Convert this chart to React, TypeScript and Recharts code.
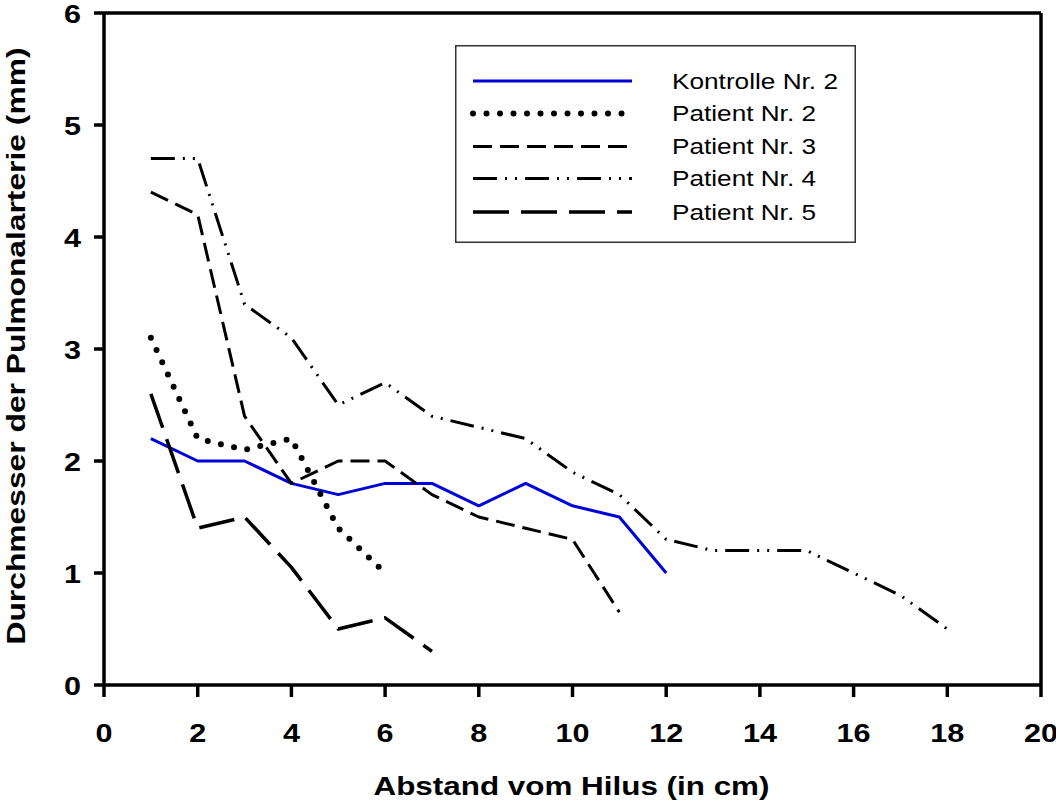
import React from 'react';
import { LineChart, Line, XAxis, YAxis, ReferenceLine, Legend } from 'recharts';

const FONT = '"Liberation Sans", Arial, Helvetica, sans-serif';

// Abstand vom Hilus (cm)
const distances = [1, 2, 3, 4, 5, 6, 7, 8, 9, 10, 11, 12, 13, 14, 15, 16, 17, 18];
// Durchmesser der Pulmonalarterie (mm)
const kontrolle2 = [2.2, 2.0, 2.0, 1.8, 1.7, 1.8, 1.8, 1.6, 1.8, 1.6, 1.5, 1.0];
const patient2 = [3.1, 2.2, 2.1, 2.2, 1.4, 1.0];
const patient3 = [4.4, 4.2, 2.4, 1.8, 2.0, 2.0, 1.7, 1.5, 1.4, 1.3, 0.65];
const patient4 = [4.7, 4.7, 3.4, 3.1, 2.5, 2.7, 2.4, 2.3, 2.2, 1.9, 1.7, 1.3, 1.2, 1.2, 1.2, 1.0, 0.8, 0.5];
const patient5 = [2.6, 1.4, 1.5, 1.05, 0.5, 0.6, 0.3];

const xTicks = [0, 2, 4, 6, 8, 10, 12, 14, 16, 18, 20];
const yTicks = [0, 1, 2, 3, 4, 5, 6];

const seriesNames = ['Kontrolle Nr. 2', 'Patient Nr. 2', 'Patient Nr. 3', 'Patient Nr. 4', 'Patient Nr. 5'];
const seriesKeys = ['k2', 'p2', 'p3', 'p4', 'p5'];
const seriesValues = [kontrolle2, patient2, patient3, patient4, patient5];

const xTitle = 'Abstand vom Hilus (in cm)';
const yTitle = 'Durchmesser der Pulmonalarterie (mm)';

const seriesStyles: Record<string, { color: string; dash?: string; width: number; cap: 'butt' | 'round' }> = {
  k2: { color: '#0000d8', dash: undefined, width: 3, cap: 'butt' },
  p2: { color: '#000000', dash: '0 13.5', width: 6, cap: 'round' },
  p3: { color: '#000000', dash: '19 8', width: 3, cap: 'butt' },
  p4: { color: '#000000', dash: '24 8 2 8 2 8', width: 3, cap: 'butt' },
  p5: { color: '#000000', dash: '36 12', width: 3.5, cap: 'butt' },
};

const data = distances.map((d, i) => {
  const row: Record<string, number | undefined> = { x: d };
  seriesKeys.forEach((k, s) => {
    row[k] = seriesValues[s][i];
  });
  return row;
});

const XTick = (props: any) => {
  const { x, y, payload } = props;
  const s = String(payload.value);
  return (
    <text
      x={x}
      y={y + 43}
      textAnchor="middle"
      fontSize={26}
      fontWeight="bold"
      fontFamily={FONT}
      fill="#000"
      textLength={17 * s.length}
      lengthAdjust="spacingAndGlyphs"
    >
      {s}
    </text>
  );
};

const YTick = (props: any) => {
  const { x, y, payload } = props;
  const s = String(payload.value);
  return (
    <text
      x={x - 11}
      y={y + 9.5}
      textAnchor="end"
      fontSize={26}
      fontWeight="bold"
      fontFamily={FONT}
      fill="#000"
      textLength={17 * s.length}
      lengthAdjust="spacingAndGlyphs"
    >
      {s}
    </text>
  );
};

const XTitle = (props: any) => {
  const vb = props.viewBox || { x: 104, y: 685, width: 937, height: 60 };
  const cx = vb.x + vb.width / 2 - 1;
  return (
    <text
      x={cx}
      y={vb.y + 110}
      textAnchor="middle"
      fontSize={26}
      fontWeight="bold"
      fontFamily={FONT}
      fill="#000"
      textLength={396}
      lengthAdjust="spacingAndGlyphs"
    >
      {xTitle}
    </text>
  );
};

const YTitle = (props: any) => {
  const vb = props.viewBox || { x: 44, y: 13, width: 60, height: 672 };
  const cx = vb.x - 19;
  const cy = vb.y + vb.height / 2 - 3;
  return (
    <text
      x={cx}
      y={cy}
      transform={`rotate(-90, ${cx}, ${cy})`}
      textAnchor="middle"
      fontSize={26}
      fontWeight="bold"
      fontFamily={FONT}
      fill="#000"
      textLength={597}
      lengthAdjust="spacingAndGlyphs"
    >
      {yTitle}
    </text>
  );
};

const LegendContent = (props: any) => {
  const payload = props.payload || [];
  const rowY = [36, 68.5, 101.5, 133.5, 167];
  return (
    <svg width={401} height={198} style={{ display: 'block' }}>
      <rect x={0.75} y={0.75} width={399.5} height={196.5} fill="#fff" stroke="#333" strokeWidth={1.5} />
      {payload.map((entry: any, i: number) => {
        const key = entry.dataKey as string;
        const st = seriesStyles[key];
        const y = rowY[i];
        const label = String(entry.value);
        const len = label.startsWith('Kontrolle') ? 166 : 144;
        return (
          <g key={key}>
            <line
              x1={18}
              x2={177}
              y1={y}
              y2={y}
              stroke={st.color}
              strokeWidth={st.width}
              strokeDasharray={st.dash}
              strokeLinecap={st.cap}
            />
            <text
              x={217}
              y={y + 7.5}
              fontSize={22}
              fontFamily={FONT}
              fill="#000"
              textLength={len}
              lengthAdjust="spacingAndGlyphs"
            >
              {label}
            </text>
          </g>
        );
      })}
    </svg>
  );
};

export default function App() {
  return (
    <div style={{ position: 'absolute', left: 0, top: 0, width: 1056, height: 807, background: '#fff' }}>
      <LineChart width={1056} height={807} data={data} margin={{ top: 13, right: 15, left: 44, bottom: 62 }}>
        <XAxis
          dataKey="x"
          type="number"
          domain={[0, 20]}
          ticks={xTicks}
          interval={0}
          height={60}
          tickSize={12}
          axisLine={{ stroke: '#000', strokeWidth: 3.5 }}
          tickLine={{ stroke: '#000', strokeWidth: 3.5 }}
          tick={<XTick />}
          label={<XTitle />}
          allowDataOverflow
        />
        <YAxis
          type="number"
          domain={[0, 6]}
          ticks={yTicks}
          interval={0}
          width={60}
          tickSize={10}
          axisLine={{ stroke: '#000', strokeWidth: 3.5 }}
          tickLine={{ stroke: '#000', strokeWidth: 3.5 }}
          tick={<YTick />}
          label={<YTitle />}
          allowDataOverflow
        />
        <ReferenceLine y={6} stroke="#000" strokeWidth={3.5} />
        <ReferenceLine x={20} stroke="#000" strokeWidth={3.5} />
        {seriesKeys.map((k, i) => (
          <Line
            key={k}
            dataKey={k}
            name={seriesNames[i]}
            type="linear"
            stroke={seriesStyles[k].color}
            strokeWidth={seriesStyles[k].width}
            strokeDasharray={seriesStyles[k].dash}
            strokeLinecap={seriesStyles[k].cap}
            strokeLinejoin="round"
            dot={false}
            activeDot={false}
            isAnimationActive={false}
          />
        ))}
        <Legend
          layout="horizontal"
          verticalAlign="middle"
          align="center"
          wrapperStyle={{ left: 455, top: 45, width: 401, height: 198 }}
          content={<LegendContent />}
        />
      </LineChart>
    </div>
  );
}
